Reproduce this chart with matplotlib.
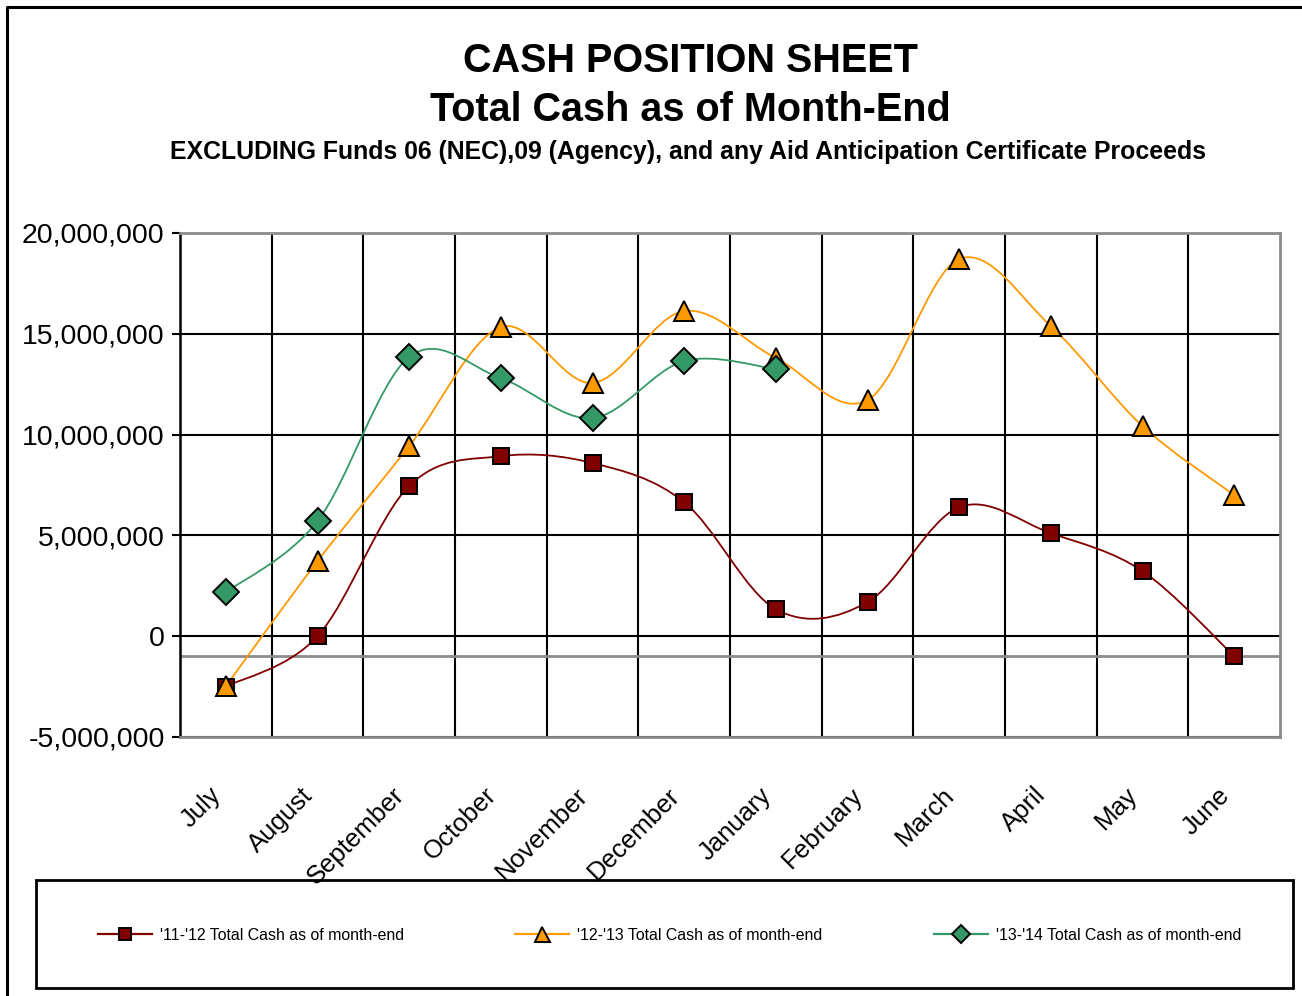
import numpy as np
import matplotlib
matplotlib.use("Agg")
import matplotlib.pyplot as plt
from matplotlib.path import Path
from matplotlib.patches import PathPatch, Rectangle
from matplotlib.lines import Line2D
from matplotlib.transforms import ScaledTranslation, blended_transform_factory

plt.rcParams['font.family'] = ['Liberation Sans', 'DejaVu Sans']

months = ["July", "August", "September", "October", "November", "December",
          "January", "February", "March", "April", "May", "June"]
cash_11_12 = [-2500000, 0, 7450000, 8930000, 8590000, 6650000,
              1340000, 1690000, 6400000, 5110000, 3230000, -990000]
cash_12_13 = [-2480000, 3720000, 9430000, 15330000, 12560000, 16130000,
              13800000, 11710000, 18710000, 15380000, 10420000, 7000000]
cash_13_14 = [2180000, 5710000, 13850000, 12800000, 10820000, 13650000, 13250000]
reference_level = -1000000
series_labels = ["'11-'12 Total Cash as of month-end",
                 "'12-'13 Total Cash as of month-end",
                 "'13-'14 Total Cash as of month-end"]
y_ticks = [-5000000, 0, 5000000, 10000000, 15000000, 20000000]

W, H = 1302, 996
fig = plt.figure(figsize=(W / 100, H / 100), dpi=100)
ax = fig.add_axes([180 / W, 1 - 737 / H, 1100 / W, 504 / H])


def smooth_path(xs, ys):
    xs = np.asarray(xs, float)
    ys = np.asarray(ys, float)
    n = len(xs)
    verts = [(xs[0], ys[0])]
    codes = [Path.MOVETO]
    for i in range(n - 1):
        p0 = i - 1 if i > 0 else i
        p3 = i + 2 if i + 2 < n else i + 1
        tx1 = (xs[i + 1] - xs[p0]) / 6.0
        ty1 = (ys[i + 1] - ys[p0]) / 6.0
        tx2 = (xs[p3] - xs[i]) / 6.0
        ty2 = (ys[p3] - ys[i]) / 6.0
        verts += [(xs[i] + tx1, ys[i] + ty1),
                  (xs[i + 1] - tx2, ys[i + 1] - ty2),
                  (xs[i + 1], ys[i + 1])]
        codes += [Path.CURVE4] * 3
    return Path(verts, codes)


styles = [
    dict(color="#800000", marker="s", ms=11.5),
    dict(color="#FF9900", marker="^", ms=15),
    dict(color="#339966", marker="D", ms=13),
]
all_series = [cash_11_12, cash_12_13, cash_13_14]

ax.axhline(reference_level, color="#8c8c8c", lw=2.0, zorder=1.5)

handles = []
for vals, st, lab in zip(all_series, styles, series_labels):
    x = np.arange(len(vals))
    ax.add_patch(PathPatch(smooth_path(x, vals), facecolor="none",
                           edgecolor=st["color"], lw=1.3, zorder=3))
    ax.plot(x, vals, linestyle="none", marker=st["marker"], ms=st["ms"],
            mfc=st["color"], mec="black", mew=1.4, zorder=4)
    handles.append(Line2D([], [], color=st["color"], lw=1.6, marker=st["marker"],
                          ms=st["ms"] * 0.72, mfc=st["color"], mec="black", mew=1.4))

ax.set_xlim(-0.5, len(months) - 0.5)
ax.set_ylim(-5000000, 20000000)
ax.set_yticks(y_ticks)
ax.set_yticklabels(["{:,}".format(v) for v in y_ticks], fontsize=20.5)
ax.set_xticks(np.arange(len(months)))
ax.set_xticklabels([])
# month labels, rotated 45 degrees
lbl_tr = blended_transform_factory(ax.transData, ax.transAxes) + \
    ScaledTranslation(-17 / 100, -46 / 100, fig.dpi_scale_trans)
for i, m in enumerate(months):
    ax.text(i, 0, m, transform=lbl_tr, fontsize=18.5, rotation=45, ha="right",
            va="top", rotation_mode="anchor", clip_on=False)
ax.set_xticks(np.arange(len(months) - 1) + 0.5, minor=True)
ax.tick_params(axis="x", which="both", length=0)
ax.tick_params(axis="y", length=6, width=1.5, pad=5, colors="black")
ax.grid(axis="y", which="major", color="black", lw=1.5)
ax.grid(axis="x", which="minor", color="black", lw=1.5)
ax.set_axisbelow(True)
for s in ["top", "right", "bottom"]:
    ax.spines[s].set_color("#8c8c8c")
    ax.spines[s].set_linewidth(2.0)
ax.spines["left"].set_color("black")
ax.spines["left"].set_linewidth(1.8)

fig.text(690 / W, 1 - 61 / H, "CASH POSITION SHEET", ha="center", va="center",
         fontsize=28.5, fontweight="bold")
fig.text(690 / W, 1 - 110 / H, "Total Cash as of Month-End", ha="center", va="center",
         fontsize=28.5, fontweight="bold")
fig.text(688 / W, 1 - 152 / H,
         "EXCLUDING Funds 06 (NEC),09 (Agency), and any Aid Anticipation Certificate Proceeds",
         ha="center", va="center", fontsize=17.9, fontweight="bold")

# outer border (top and left)
fig.add_artist(Line2D([7 / W, 7 / W, 1.0], [0, 1 - 7 / H, 1 - 7 / H],
                      transform=fig.transFigure, color="black", lw=2.2))
# legend box
fig.add_artist(Rectangle((36 / W, 1 - 988 / H), (1293 - 36) / W, (988 - 880) / H,
                         transform=fig.transFigure, fill=False, edgecolor="black", lw=2.0))
fig.legend(handles, series_labels, ncol=3, mode="expand", frameon=False,
           bbox_to_anchor=(98 / W, 1 - 960 / H, (1241 - 98) / W, 50 / H),
           loc="center", fontsize=11.4, handlelength=3.4, handletextpad=0.5,
           borderaxespad=0, borderpad=0)

fig.savefig("out.png", dpi=100)
